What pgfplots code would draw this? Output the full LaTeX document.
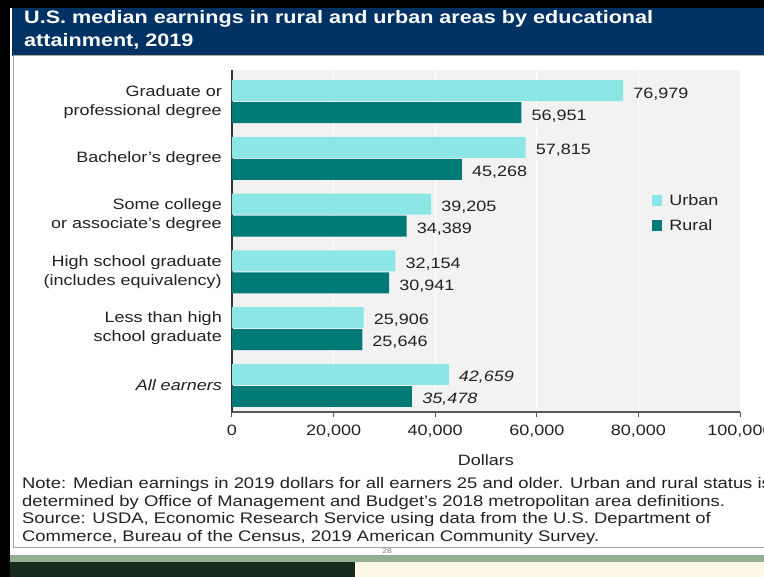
\documentclass[border=0pt]{standalone}
\usepackage{pgfplots}
\pgfplotsset{compat=1.18}
\usepackage{fontspec}
\setmainfont{Liberation Sans}[FakeStretch=1.2]
\definecolor{urban}{HTML}{8CE6E6}
\definecolor{rural}{HTML}{007A76}
\definecolor{navy}{RGB}{0,50,100}
\definecolor{plotbg}{HTML}{F2F2F2}
\definecolor{txt}{HTML}{222222}
\definecolor{band}{HTML}{93AE94}
\definecolor{dkgreen}{HTML}{18291E}
\definecolor{cream}{HTML}{FDF8E6}
\begin{document}
\fontsize{15pt}{18pt}\selectfont
\begin{tikzpicture}
\clip (0pt,0pt) rectangle (764pt,577pt);
\fill[black] (0pt,0pt) rectangle (764pt,577pt);
\fill[band] (10pt,15pt) rectangle (764pt,22pt);
\fill[dkgreen] (10pt,0pt) rectangle (355pt,15pt);
\fill[cream] (355pt,0pt) rectangle (764pt,15pt);
\fill[white] (10pt,22pt) rectangle (764pt,569pt);
\fill[navy] (12pt,521pt) rectangle (764pt,569pt);
\draw[gray!70, line width=1pt] (13pt,29pt) rectangle (770pt,521pt);
\node[anchor=base west, inner sep=0pt, text=white, font=\fontsize{18pt}{22pt}\selectfont\bfseries] at (24pt,553pt) {U.S. median earnings in rural and urban areas by educational};
\node[anchor=base west, inner sep=0pt, text=white, font=\fontsize{18pt}{22pt}\selectfont\bfseries] at (24pt,530pt) {attainment, 2019};
\node[anchor=north west, inner sep=0pt, align=left, text=txt, font=\fontsize{15.35pt}{17.7pt}\selectfont] at (22pt,100pt) {Note: Median earnings in 2019 dollars for all earners 25 and older. Urban and rural status is\\determined by Office of Management and Budget's 2018 metropolitan area definitions.\\Source: USDA, Economic Research Service using data from the U.S. Department of\\Commerce, Bureau of the Census, 2019 American Community Survey.};
\node[inner sep=0pt, text=gray, font=\fontsize{7pt}{8pt}\selectfont] at (387pt,26pt) {28};
\begin{axis}[
  at={(232pt,165pt)}, anchor=south west,
  scale only axis, width=508pt, height=342pt,
  xbar, bar width=21pt,
  xmin=0, xmax=100000, ymin=-0.47, ymax=5.56,
  axis background/.style={fill=plotbg},
  axis x line*=bottom, axis y line*=left,
  x axis line style={-, draw=black!65, line width=1.2pt},
  y axis line style={-, draw=black!80, line width=1.2pt},
  xtick={0,20000,40000,60000,80000,100000},
  scaled x ticks=false,
  xticklabel style={yshift=-3pt, /pgf/number format/.cd, fixed, precision=0, 1000 sep={,}, assume math mode=true},
  x tick style={draw=black!65, line width=1pt},
  tick align=outside, major tick length=5pt,
  xmajorgrids, grid style={white, line width=1pt},
  ytick={0,1,2,3,4,5},
  y tick style={draw=none},
  yticklabels={\textit{All earners}, Less than high\\school graduate, High school graduate\\(includes equivalency), Some college\\or associate's degree, Bachelor's degree, Graduate or\\professional degree},
  yticklabel style={align=right, font=\fontsize{15pt}{19pt}\selectfont, text=txt},
  ticklabel style={font=\fontsize{15pt}{18pt}\selectfont, text=txt},
  xlabel={Dollars}, xlabel style={font=\fontsize{15pt}{18pt}\selectfont, text=txt, yshift=-7pt},
  point meta=x,
  nodes near coords={\pgfmathprintnumber[fixed,precision=0,1000 sep={,},assume math mode=true]{\pgfplotspointmeta}},
  nodes near coords style={font=\fontsize{15pt}{18pt}\selectfont, text=txt, xshift=5pt, yshift=-3pt},
  legend style={at={(rel axis cs:0.82,0.649)}, anchor=north west, draw=none, fill=none, font=\fontsize{15pt}{18pt}\selectfont, text=txt, row sep=8pt, /tikz/every odd column/.style={column sep=5pt}},
  legend cell align=left,
  legend image code/.code={\fill[#1,draw=none] (0pt,-5pt) rectangle (10.5pt,5.5pt);},
]
\addplot[fill=urban, draw=none, bar shift=11pt] coordinates {(25906,1) (32154,2) (39205,3) (57815,4) (76979,5)};
\addlegendentry{Urban}
\addplot[fill=rural, draw=none, bar shift=-11pt] coordinates {(25646,1) (30941,2) (34389,3) (45268,4) (56951,5)};
\addlegendentry{Rural}
\addplot[fill=urban, draw=none, bar shift=11pt, forget plot, every node near coord/.append style={font=\fontsize{15pt}{18pt}\selectfont\itshape}] coordinates {(42659,0)};
\addplot[fill=rural, draw=none, bar shift=-11pt, forget plot, every node near coord/.append style={font=\fontsize{15pt}{18pt}\selectfont\itshape}] coordinates {(35478,0)};
\end{axis}
\end{tikzpicture}
\end{document}
